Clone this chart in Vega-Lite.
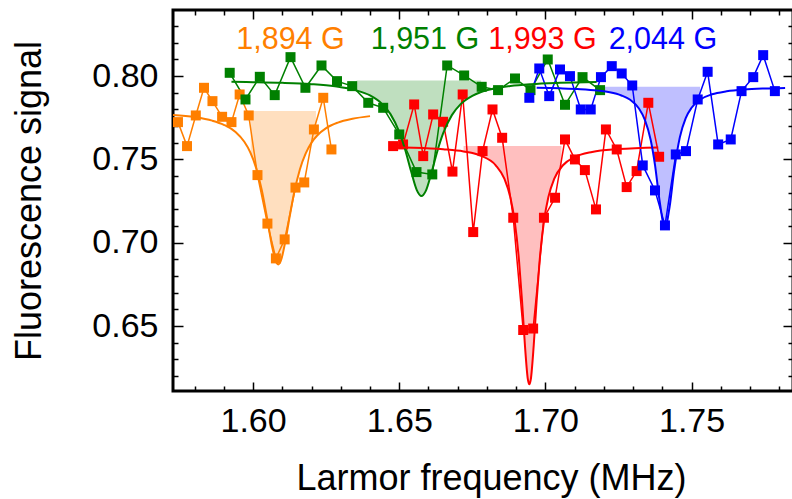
{
  "$schema": "https://vega.github.io/schema/vega-lite/v6.json",
  "width": 620,
  "height": 381,
  "autosize": {"type": "none"},
  "padding": {"left": 173, "top": 10, "right": 0, "bottom": 108},
  "background": "white",
  "config": {
    "view": {"stroke": "black", "strokeWidth": 3},
    "font": "Liberation Sans",
    "axis": {
      "grid": false, "domain": false, "tickColor": "black", "tickWidth": 1.5,
      "labelColor": "black", "titleColor": "black",
      "labelFont": "Liberation Sans", "titleFont": "Liberation Sans",
      "labelFontSize": 34, "titleFontSize": 36, "titleFontWeight": "normal",
      "labelOverlap": false, "labelBound": false, "labelFlush": false
    }
  },
  "datasets": {
    "pts": [
      {"series":"1,894 G","x":1.5743,"y":0.7724},{"series":"1,894 G","x":1.5774,"y":0.758},{"series":"1,894 G","x":1.5804,"y":0.7764},{"series":"1,894 G","x":1.5832,"y":0.793},{"series":"1,894 G","x":1.5861,"y":0.785},{"series":"1,894 G","x":1.5894,"y":0.7756},{"series":"1,894 G","x":1.5926,"y":0.7724},{"series":"1,894 G","x":1.5954,"y":0.789},{"series":"1,894 G","x":1.5985,"y":0.7764},{"series":"1,894 G","x":1.6015,"y":0.7406},{"series":"1,894 G","x":1.6049,"y":0.7115},{"series":"1,894 G","x":1.6078,"y":0.6906},{"series":"1,894 G","x":1.6108,"y":0.702},{"series":"1,894 G","x":1.6145,"y":0.7331},{"series":"1,894 G","x":1.6175,"y":0.7362},{"series":"1,894 G","x":1.6208,"y":0.768},{"series":"1,894 G","x":1.624,"y":0.787},{"series":"1,894 G","x":1.6268,"y":0.756},
      {"series":"1,951 G","x":1.592,"y":0.802},{"series":"1,951 G","x":1.5974,"y":0.786},{"series":"1,951 G","x":1.6023,"y":0.7996},{"series":"1,951 G","x":1.6074,"y":0.7886},{"series":"1,951 G","x":1.6128,"y":0.8114},{"series":"1,951 G","x":1.6179,"y":0.793},{"series":"1,951 G","x":1.6234,"y":0.8064},{"series":"1,951 G","x":1.6287,"y":0.797},{"series":"1,951 G","x":1.6339,"y":0.794},{"series":"1,951 G","x":1.6394,"y":0.784},{"series":"1,951 G","x":1.6445,"y":0.781},{"series":"1,951 G","x":1.65,"y":0.765},{"series":"1,951 G","x":1.6559,"y":0.7424},{"series":"1,951 G","x":1.6613,"y":0.741},{"series":"1,951 G","x":1.6664,"y":0.8064},{"series":"1,951 G","x":1.6722,"y":0.8004},{"series":"1,951 G","x":1.6782,"y":0.7936},{"series":"1,951 G","x":1.6838,"y":0.7916},{"series":"1,951 G","x":1.6896,"y":0.7986},{"series":"1,951 G","x":1.6949,"y":0.7916},{"series":"1,951 G","x":1.7008,"y":0.81},{"series":"1,951 G","x":1.7067,"y":0.7828},{"series":"1,951 G","x":1.7127,"y":0.7994},{"series":"1,951 G","x":1.7187,"y":0.7916},
      {"series":"1,993 G","x":1.6479,"y":0.758},{"series":"1,993 G","x":1.6513,"y":0.759},{"series":"1,993 G","x":1.6551,"y":0.783},{"series":"1,993 G","x":1.6582,"y":0.752},{"series":"1,993 G","x":1.6616,"y":0.777},{"series":"1,993 G","x":1.665,"y":0.7726},{"series":"1,993 G","x":1.6682,"y":0.7427},{"series":"1,993 G","x":1.6717,"y":0.789},{"series":"1,993 G","x":1.6753,"y":0.7064},{"series":"1,993 G","x":1.6785,"y":0.755},{"series":"1,993 G","x":1.6819,"y":0.78},{"series":"1,993 G","x":1.6852,"y":0.763},{"series":"1,993 G","x":1.689,"y":0.715},{"series":"1,993 G","x":1.6924,"y":0.6476},{"series":"1,993 G","x":1.6958,"y":0.6485},{"series":"1,993 G","x":1.6995,"y":0.715},{"series":"1,993 G","x":1.7033,"y":0.727},{"series":"1,993 G","x":1.7067,"y":0.762},{"series":"1,993 G","x":1.7101,"y":0.75},{"series":"1,993 G","x":1.7135,"y":0.7436},{"series":"1,993 G","x":1.7173,"y":0.72},{"series":"1,993 G","x":1.7207,"y":0.768},{"series":"1,993 G","x":1.7244,"y":0.756},{"series":"1,993 G","x":1.7278,"y":0.7334},{"series":"1,993 G","x":1.7312,"y":0.743},{"series":"1,993 G","x":1.7352,"y":0.784},{"series":"1,993 G","x":1.7389,"y":0.7516},
      {"series":"2,044 G","x":1.6945,"y":0.787},{"series":"2,044 G","x":1.6979,"y":0.8046},{"series":"2,044 G","x":1.7013,"y":0.788},{"series":"2,044 G","x":1.705,"y":0.804},{"series":"2,044 G","x":1.7084,"y":0.8},{"series":"2,044 G","x":1.7121,"y":0.78},{"series":"2,044 G","x":1.7155,"y":0.78},{"series":"2,044 G","x":1.719,"y":0.7994},{"series":"2,044 G","x":1.7227,"y":0.806},{"series":"2,044 G","x":1.7261,"y":0.8016},{"series":"2,044 G","x":1.7297,"y":0.7944},{"series":"2,044 G","x":1.7333,"y":0.7464},{"series":"2,044 G","x":1.7375,"y":0.7314},{"series":"2,044 G","x":1.7409,"y":0.7104},{"series":"2,044 G","x":1.7446,"y":0.753},{"series":"2,044 G","x":1.7481,"y":0.755},{"series":"2,044 G","x":1.7521,"y":0.786},{"series":"2,044 G","x":1.7555,"y":0.8026},{"series":"2,044 G","x":1.7591,"y":0.759},{"series":"2,044 G","x":1.7634,"y":0.762},{"series":"2,044 G","x":1.7671,"y":0.791},{"series":"2,044 G","x":1.7711,"y":0.7994},{"series":"2,044 G","x":1.7745,"y":0.8126},{"series":"2,044 G","x":1.7785,"y":0.791}
    ],
    "fit": [
      {"series":"1,894 G","x":1.5726,"y":0.7767},{"series":"1,894 G","x":1.58,"y":0.7754},{"series":"1,894 G","x":1.586,"y":0.7733},{"series":"1,894 G","x":1.59,"y":0.7708},{"series":"1,894 G","x":1.594,"y":0.7665},{"series":"1,894 G","x":1.597,"y":0.7606},{"series":"1,894 G","x":1.599,"y":0.7544},{"series":"1,894 G","x":1.601,"y":0.7451},{"series":"1,894 G","x":1.603,"y":0.7314},{"series":"1,894 G","x":1.605,"y":0.7126},{"series":"1,894 G","x":1.6065,"y":0.6977},{"series":"1,894 G","x":1.608,"y":0.688},{"series":"1,894 G","x":1.6086,"y":0.687},{"series":"1,894 G","x":1.6095,"y":0.6892},{"series":"1,894 G","x":1.611,"y":0.7005},{"series":"1,894 G","x":1.6125,"y":0.7156},{"series":"1,894 G","x":1.614,"y":0.7297},{"series":"1,894 G","x":1.616,"y":0.744},{"series":"1,894 G","x":1.618,"y":0.7536},{"series":"1,894 G","x":1.62,"y":0.7601},{"series":"1,894 G","x":1.622,"y":0.7645},{"series":"1,894 G","x":1.625,"y":0.7688},{"series":"1,894 G","x":1.629,"y":0.7721},{"series":"1,894 G","x":1.634,"y":0.7744},{"series":"1,894 G","x":1.64,"y":0.776},
      {"series":"1,951 G","x":1.5926,"y":0.7966},{"series":"1,951 G","x":1.6,"y":0.7964},{"series":"1,951 G","x":1.61,"y":0.796},{"series":"1,951 G","x":1.62,"y":0.7952},{"series":"1,951 G","x":1.628,"y":0.7939},{"series":"1,951 G","x":1.635,"y":0.7916},{"series":"1,951 G","x":1.64,"y":0.7884},{"series":"1,951 G","x":1.644,"y":0.7835},{"series":"1,951 G","x":1.647,"y":0.7772},{"series":"1,951 G","x":1.65,"y":0.7665},{"series":"1,951 G","x":1.652,"y":0.756},{"series":"1,951 G","x":1.654,"y":0.7432},{"series":"1,951 G","x":1.656,"y":0.7316},{"series":"1,951 G","x":1.6576,"y":0.728},{"series":"1,951 G","x":1.659,"y":0.7308},{"series":"1,951 G","x":1.661,"y":0.7419},{"series":"1,951 G","x":1.663,"y":0.7548},{"series":"1,951 G","x":1.665,"y":0.7656},{"series":"1,951 G","x":1.668,"y":0.7766},{"series":"1,951 G","x":1.671,"y":0.7832},{"series":"1,951 G","x":1.675,"y":0.7882},{"series":"1,951 G","x":1.678,"y":0.7905},{"series":"1,951 G","x":1.682,"y":0.7924},{"series":"1,951 G","x":1.688,"y":0.7941},{"series":"1,951 G","x":1.695,"y":0.7952},{"series":"1,951 G","x":1.705,"y":0.796},{"series":"1,951 G","x":1.7175,"y":0.7965},
      {"series":"1,993 G","x":1.6468,"y":0.7573},{"series":"1,993 G","x":1.655,"y":0.757},{"series":"1,993 G","x":1.665,"y":0.7561},{"series":"1,993 G","x":1.672,"y":0.7548},{"series":"1,993 G","x":1.678,"y":0.7522},{"series":"1,993 G","x":1.683,"y":0.7465},{"series":"1,993 G","x":1.686,"y":0.7383},{"series":"1,993 G","x":1.688,"y":0.7273},{"series":"1,993 G","x":1.6895,"y":0.7128},{"series":"1,993 G","x":1.691,"y":0.6886},{"series":"1,993 G","x":1.692,"y":0.6652},{"series":"1,993 G","x":1.693,"y":0.6383},{"series":"1,993 G","x":1.694,"y":0.618},{"series":"1,993 G","x":1.6945,"y":0.615},{"series":"1,993 G","x":1.695,"y":0.618},{"series":"1,993 G","x":1.696,"y":0.6383},{"series":"1,993 G","x":1.697,"y":0.6652},{"series":"1,993 G","x":1.698,"y":0.6886},{"series":"1,993 G","x":1.6995,"y":0.7128},{"series":"1,993 G","x":1.701,"y":0.7273},{"series":"1,993 G","x":1.703,"y":0.7383},{"series":"1,993 G","x":1.706,"y":0.7465},{"series":"1,993 G","x":1.71,"y":0.7514},{"series":"1,993 G","x":1.716,"y":0.7545},{"series":"1,993 G","x":1.725,"y":0.7562},{"series":"1,993 G","x":1.7386,"y":0.7572},
      {"series":"2,044 G","x":1.697,"y":0.793},{"series":"2,044 G","x":1.705,"y":0.7927},{"series":"2,044 G","x":1.712,"y":0.7922},{"series":"2,044 G","x":1.718,"y":0.7913},{"series":"2,044 G","x":1.722,"y":0.7903},{"series":"2,044 G","x":1.726,"y":0.7884},{"series":"2,044 G","x":1.729,"y":0.7858},{"series":"2,044 G","x":1.732,"y":0.7806},{"series":"2,044 G","x":1.734,"y":0.7739},{"series":"2,044 G","x":1.736,"y":0.7618},{"series":"2,044 G","x":1.7375,"y":0.7466},{"series":"2,044 G","x":1.739,"y":0.7259},{"series":"2,044 G","x":1.7409,"y":0.709},{"series":"2,044 G","x":1.7425,"y":0.7217},{"series":"2,044 G","x":1.744,"y":0.7428},{"series":"2,044 G","x":1.746,"y":0.7634},{"series":"2,044 G","x":1.748,"y":0.7748},{"series":"2,044 G","x":1.75,"y":0.781},{"series":"2,044 G","x":1.753,"y":0.786},{"series":"2,044 G","x":1.757,"y":0.7891},{"series":"2,044 G","x":1.762,"y":0.7909},{"series":"2,044 G","x":1.768,"y":0.792},{"series":"2,044 G","x":1.775,"y":0.7926},{"series":"2,044 G","x":1.782,"y":0.7929}
    ],
    "fill": [
      {"series":"1,894 G","x":1.5992,"y":0.7536,"base":0.779},{"series":"1,894 G","x":1.601,"y":0.7451,"base":0.779},{"series":"1,894 G","x":1.603,"y":0.7314,"base":0.779},{"series":"1,894 G","x":1.605,"y":0.7126,"base":0.779},{"series":"1,894 G","x":1.6065,"y":0.6977,"base":0.779},{"series":"1,894 G","x":1.608,"y":0.688,"base":0.779},{"series":"1,894 G","x":1.6086,"y":0.687,"base":0.779},{"series":"1,894 G","x":1.6095,"y":0.6892,"base":0.779},{"series":"1,894 G","x":1.611,"y":0.7005,"base":0.779},{"series":"1,894 G","x":1.6125,"y":0.7156,"base":0.779},{"series":"1,894 G","x":1.614,"y":0.7297,"base":0.779},{"series":"1,894 G","x":1.616,"y":0.744,"base":0.779},{"series":"1,894 G","x":1.618,"y":0.7536,"base":0.779},{"series":"1,894 G","x":1.62,"y":0.7601,"base":0.779},{"series":"1,894 G","x":1.6215,"y":0.7635,"base":0.779},
      {"series":"1,951 G","x":1.6354,"y":0.7914,"base":0.7974},{"series":"1,951 G","x":1.64,"y":0.7884,"base":0.7974},{"series":"1,951 G","x":1.644,"y":0.7835,"base":0.7974},{"series":"1,951 G","x":1.647,"y":0.7772,"base":0.7974},{"series":"1,951 G","x":1.65,"y":0.7665,"base":0.7974},{"series":"1,951 G","x":1.652,"y":0.756,"base":0.7974},{"series":"1,951 G","x":1.654,"y":0.7432,"base":0.7974},{"series":"1,951 G","x":1.656,"y":0.7316,"base":0.7974},{"series":"1,951 G","x":1.6576,"y":0.728,"base":0.7974},{"series":"1,951 G","x":1.659,"y":0.7308,"base":0.7974},{"series":"1,951 G","x":1.661,"y":0.7419,"base":0.7974},{"series":"1,951 G","x":1.663,"y":0.7548,"base":0.7974},{"series":"1,951 G","x":1.665,"y":0.7656,"base":0.7974},{"series":"1,951 G","x":1.668,"y":0.7766,"base":0.7974},{"series":"1,951 G","x":1.671,"y":0.7832,"base":0.7974},{"series":"1,951 G","x":1.675,"y":0.7882,"base":0.7974},{"series":"1,951 G","x":1.678,"y":0.7905,"base":0.7974},
      {"series":"1,993 G","x":1.672,"y":0.7548,"base":0.758},{"series":"1,993 G","x":1.678,"y":0.7522,"base":0.758},{"series":"1,993 G","x":1.683,"y":0.7465,"base":0.758},{"series":"1,993 G","x":1.686,"y":0.7383,"base":0.758},{"series":"1,993 G","x":1.688,"y":0.7273,"base":0.758},{"series":"1,993 G","x":1.6895,"y":0.7128,"base":0.758},{"series":"1,993 G","x":1.691,"y":0.6886,"base":0.758},{"series":"1,993 G","x":1.692,"y":0.6652,"base":0.758},{"series":"1,993 G","x":1.693,"y":0.6383,"base":0.758},{"series":"1,993 G","x":1.694,"y":0.618,"base":0.758},{"series":"1,993 G","x":1.6945,"y":0.615,"base":0.758},{"series":"1,993 G","x":1.695,"y":0.618,"base":0.758},{"series":"1,993 G","x":1.696,"y":0.6383,"base":0.758},{"series":"1,993 G","x":1.697,"y":0.6652,"base":0.758},{"series":"1,993 G","x":1.698,"y":0.6886,"base":0.758},{"series":"1,993 G","x":1.6995,"y":0.7128,"base":0.758},{"series":"1,993 G","x":1.701,"y":0.7273,"base":0.758},{"series":"1,993 G","x":1.703,"y":0.7383,"base":0.758},{"series":"1,993 G","x":1.7055,"y":0.7455,"base":0.758},
      {"series":"2,044 G","x":1.7198,"y":0.7909,"base":0.7936},{"series":"2,044 G","x":1.722,"y":0.7903,"base":0.7936},{"series":"2,044 G","x":1.726,"y":0.7884,"base":0.7936},{"series":"2,044 G","x":1.729,"y":0.7858,"base":0.7936},{"series":"2,044 G","x":1.732,"y":0.7806,"base":0.7936},{"series":"2,044 G","x":1.734,"y":0.7739,"base":0.7936},{"series":"2,044 G","x":1.736,"y":0.7618,"base":0.7936},{"series":"2,044 G","x":1.7375,"y":0.7466,"base":0.7936},{"series":"2,044 G","x":1.739,"y":0.7259,"base":0.7936},{"series":"2,044 G","x":1.7409,"y":0.709,"base":0.7936},{"series":"2,044 G","x":1.7425,"y":0.7217,"base":0.7936},{"series":"2,044 G","x":1.744,"y":0.7428,"base":0.7936},{"series":"2,044 G","x":1.746,"y":0.7634,"base":0.7936},{"series":"2,044 G","x":1.748,"y":0.7748,"base":0.7936},{"series":"2,044 G","x":1.75,"y":0.781,"base":0.7936},{"series":"2,044 G","x":1.7529,"y":0.7859,"base":0.7936}
    ],
    "labels": [
      {"series":"1,894 G","x":1.6128,"y":0.816},
      {"series":"1,951 G","x":1.6588,"y":0.816},
      {"series":"1,993 G","x":1.699,"y":0.816},
      {"series":"2,044 G","x":1.7402,"y":0.816}
    ]
  },
  "layer": [
    {
      "data": {"name": "fill"},
      "mark": {"type": "area", "opacity": 0.25, "interpolate": "monotone"},
      "encoding": {
        "x": {"field": "x", "type": "quantitative", "scale": {"domain": [1.5726, 1.7847], "nice": false, "zero": false},
          "axis": {"orient": "bottom", "values": [1.58,1.59,1.6,1.61,1.62,1.63,1.64,1.65,1.66,1.67,1.68,1.69,1.7,1.71,1.72,1.73,1.74,1.75,1.76,1.77,1.78],
            "format": ".2f", "labelExpr": "round(datum.value*100) % 5 == 0 ? datum.label : ''",
            "tickSize": {"condition": {"test": "round(datum.value*100) % 5 == 0", "value": -9}, "value": -5},
            "labelPadding": 22, "title": "Larmor frequency (MHz)", "titlePadding": 19, "titleX": 318}},
        "y": {"field": "y", "type": "quantitative", "stack": null, "scale": {"domain": [0.611, 0.8397], "nice": false, "zero": false},
          "axis": {"orient": "left", "values": [0.62,0.63,0.64,0.65,0.66,0.67,0.68,0.69,0.7,0.71,0.72,0.73,0.74,0.75,0.76,0.77,0.78,0.79,0.8,0.81,0.82,0.83],
            "format": ".2f", "labelExpr": "round(datum.value*100) % 5 == 0 ? datum.label : ''",
            "tickSize": {"condition": {"test": "round(datum.value*100) % 5 == 0", "value": -10}, "value": -5},
            "labelPadding": 25, "title": "Fluorescence signal", "titlePadding": 43}},
        "y2": {"field": "base"},
        "color": {"field": "series", "type": "nominal", "legend": null,
          "scale": {"domain": ["1,894 G","1,951 G","1,993 G","2,044 G"], "range": ["#ff7f00","#008000","#ff0000","#0000ff"]}}
      }
    },
    {
      "data": {"name": "pts"},
      "mark": {"type": "line", "strokeWidth": 1.5, "point": {"shape": "square", "filled": true, "size": 100, "opacity": 1}},
      "encoding": {
        "x": {"field": "x", "type": "quantitative", "scale": {"domain": [1.5726, 1.7847], "nice": false, "zero": false},
          "axis": {"orient": "top", "values": [1.58,1.59,1.6,1.61,1.62,1.63,1.64,1.65,1.66,1.67,1.68,1.69,1.7,1.71,1.72,1.73,1.74,1.75,1.76,1.77,1.78],
            "labels": false, "title": null,
            "tickSize": {"condition": {"test": "round(datum.value*100) % 5 == 0", "value": -9}, "value": -5}}},
        "y": {"field": "y", "type": "quantitative", "scale": {"domain": [0.611, 0.8397], "nice": false, "zero": false},
          "axis": {"orient": "right", "values": [0.62,0.63,0.64,0.65,0.66,0.67,0.68,0.69,0.7,0.71,0.72,0.73,0.74,0.75,0.76,0.77,0.78,0.79,0.8,0.81,0.82,0.83],
            "labels": false, "title": null,
            "tickSize": {"condition": {"test": "round(datum.value*100) % 5 == 0", "value": -10}, "value": -5}}},
        "color": {"field": "series", "type": "nominal", "legend": null}
      }
    },
    {
      "data": {"name": "fit"},
      "mark": {"type": "line", "strokeWidth": 2, "interpolate": "monotone"},
      "encoding": {
        "x": {"field": "x", "type": "quantitative", "axis": null},
        "y": {"field": "y", "type": "quantitative", "axis": null},
        "color": {"field": "series", "type": "nominal", "legend": null}
      }
    },
    {
      "data": {"name": "labels"},
      "mark": {"type": "text", "fontSize": 30.5, "font": "Liberation Sans", "align": "center", "baseline": "alphabetic"},
      "encoding": {
        "x": {"field": "x", "type": "quantitative", "axis": null},
        "y": {"field": "y", "type": "quantitative", "axis": null},
        "text": {"field": "series"},
        "color": {"field": "series", "type": "nominal", "legend": null}
      }
    }
  ],
  "resolve": {"axis": {"x": "independent", "y": "independent"}}
}
